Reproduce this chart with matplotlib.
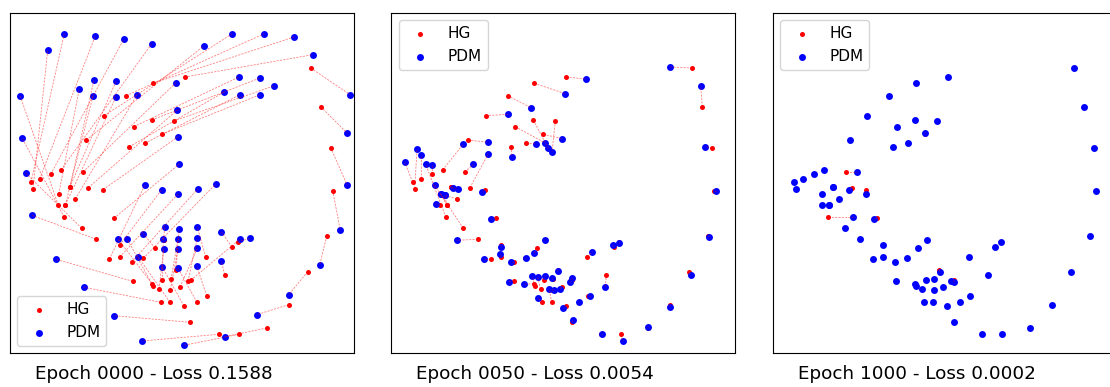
import numpy as np
import matplotlib
matplotlib.use("Agg")
import matplotlib.pyplot as plt

epochs = [0, 50, 1000]
losses = [0.1588, 0.0054, 0.0002]

# hourglass landmarks (68-point face layout), image coordinates
hg = [
    (58.3, 205), (64.3, 217.3), (81.7, 228.3), (96.3, 239.3), (132.7, 281.3),
    (160.7, 302.3), (190.3, 322.3), (219, 334.3), (239, 334.3), (266.7, 328),
    (288.7, 304.7), (307.7, 271.7), (326.7, 236), (332.7, 190.7), (330.7, 147.7),
    (320.7, 106.7), (310.7, 68),
    (33, 188.7), (31, 182), (39.7, 178.7), (50.7, 174.3), (61, 170),
    (86.3, 140), (104, 115.7), (126, 95.7), (152.7, 83.3), (184.7, 77),
    (83, 172), (88.3, 187.7), (103, 189.7), (114, 218.3),
    (109.3, 259.3), (119.7, 245), (119.7, 257), (132, 261.7), (143.3, 258.3),
    (58.7, 194), (69.7, 187.3), (69.7, 187.3), (75.3, 199), (65.3, 205), (65.3, 205),
    (129.3, 146.7), (133.7, 126.7), (151.7, 120), (173.7, 121), (161.7, 134.3), (144.7, 143.3),
    (152, 283.7), (155, 248), (163.5, 239.7), (176, 270), (205.7, 257), (232, 247),
    (237.7, 242), (224.7, 274.7), (206.7, 295.7), (197, 302.3), (184, 306), (170, 302.3),
    (153, 286), (162.3, 280.3), (171, 279.3), (188, 281.3), (190.7, 280.3), (180, 287),
    (170.3, 289.7), (159, 289),
]

# point distribution model fit at each epoch
pdm_0000 = [
    (20, 95.7), (22, 137.7), (25.7, 173), (32, 215.3), (56, 259.3),
    (84, 287.3), (114, 315.7), (141.7, 341), (183.7, 345.3), (224.7, 336.7),
    (256.7, 314.7), (288.7, 294.7), (319.7, 265), (340.3, 230.3), (347.3, 185.3),
    (347.3, 133.3), (350, 94.7),
    (47.7, 50.3), (64.3, 33.7), (95.3, 36), (123.7, 39.3), (151.7, 43.7),
    (203.7, 46), (232.3, 33.7), (264.3, 33.7), (294, 37), (312.7, 54.7),
    (176, 82.7), (177, 110.3), (178, 136.7), (179.3, 164),
    (144.7, 185.3), (161.7, 189.7), (178, 194), (198, 188.7), (215.7, 184),
    (79.3, 89), (94, 80), (116, 81.3), (137, 94.7), (116, 97), (93, 96),
    (223.7, 92.3), (239, 77), (260, 78), (274.3, 85.7), (260, 94.7), (240, 94.7),
    (118.3, 239.3), (143.3, 233.7), (164.7, 227.3), (179, 229.3), (197.3, 227), (221.3, 231.7),
    (250, 238.3), (221.3, 261.3), (196.7, 266), (178, 268.3), (162.3, 267), (138.3, 257),
    (127.3, 239.3), (163.3, 238.7), (178, 239.3), (197.3, 238.3), (239.7, 239.3), (197.3, 248.3),
    (178, 249.3), (163.7, 249.3),
]

pdm_0050 = [
    (54.1, 204), (44.1, 164.3), (53.1, 185.3), (75.1, 240.3), (127.5, 281.7),
    (156.5, 298), (191.8, 320), (220.5, 334.3), (241.5, 341.3), (266.1, 327),
    (288.1, 307), (309.1, 275), (327.8, 237), (334.8, 190.7), (323.8, 146.7),
    (319.1, 85.7), (288.1, 67),
    (35.5, 148.7), (23.1, 162), (39.8, 155.3), (50.8, 165), (81.8, 144),
    (106.5, 142.3), (126.1, 114.3), (149.5, 107.7), (183.8, 93.7), (204.8, 79),
    (91.8, 164.3), (106.5, 154.3), (100.8, 191.7), (109.5, 219.3),
    (102.8, 259.3), (119.5, 246.7), (118.5, 254), (129.8, 261.7), (144.8, 258.3),
    (59.1, 194.3), (71.1, 188.3), (76.1, 189.3), (63.1, 195.3), (63.1, 195.3), (59.1, 194.3),
    (130.5, 156.7), (163.1, 142.7), (166.8, 148.3), (170.5, 151.7), (180.5, 138.7), (154.8, 144),
    (142.8, 284.3), (152.8, 252.7), (163.1, 240.3), (176.1, 271.3), (210.8, 251.7), (231.5, 245),
    (237.5, 242.7), (223.8, 287), (208.5, 295.7), (197.1, 301.7), (181.8, 308), (167.8, 289.3),
    (150.5, 276), (163.1, 276), (170.8, 278.3), (188.8, 282.3), (190.1, 278.3), (178.1, 288.7),
    (172.5, 290.3), (156.1, 277.3),
]

pdm_1000 = [
    (58.3, 205), (89.5, 217.3), (81.7, 228.3), (96.3, 239.3), (132.7, 281.3),
    (160.7, 302.3), (190.3, 322.3), (219, 334.3), (239, 334.3), (266.7, 328),
    (288.7, 304.7), (307.7, 271.7), (326.7, 236), (332.7, 190.7), (330.7, 147.7),
    (320.7, 106.7), (310.7, 68),
    (33, 188.7), (31, 182), (39.7, 178.7), (50.7, 174.3), (61, 170),
    (86.3, 140), (104, 115.7), (126, 95.7), (152.7, 83.3), (184.7, 77),
    (94.1, 172), (86.1, 189.7), (102.8, 194), (110.5, 218.7),
    (109.3, 259.3), (119.7, 245), (119.7, 257), (132, 261.7), (143.3, 258.3),
    (58.7, 194), (69.7, 187.3), (69.7, 187.3), (75.3, 199), (65.3, 205), (65.3, 205),
    (129.3, 146.7), (133.7, 126.7), (151.7, 120), (173.7, 121), (162.1, 133.3), (144.7, 143.3),
    (152, 283.7), (155, 248), (163.5, 239.7), (176.5, 271.7), (205.7, 257), (232, 247),
    (237.7, 242), (224.7, 274.7), (206.7, 295.7), (197, 302.3), (184, 306), (170, 302.3),
    (153, 286), (162.3, 280.3), (171, 279.3), (188, 281.3), (190.5, 282.3), (180, 287),
    (170.3, 289.7), (159, 289),
]

fig = plt.figure(figsize=(11.1, 3.87), dpi=100)
W, H = 1110.0, 387.0

hg = np.array(hg)
for i, (ep, loss, pdm) in enumerate(zip(epochs, losses, [pdm_0000, pdm_0050, pdm_1000])):
    pdm = np.array(pdm)
    ax = fig.add_axes([(9.5 + i * 381.6) / W, 33.7 / H, 344 / W, 340.6 / H])

    # link each HG landmark to its PDM counterpart
    for (x0, y0), (x1, y1) in zip(hg, pdm):
        ax.plot([x0, x1], [y0, y1], color="red", ls=(0, (2.5, 1.5)), lw=0.6, alpha=0.5)

    ax.scatter(hg[:, 0], hg[:, 1], s=13, c="red", linewidths=0, label="HG")
    ax.scatter(pdm[:, 0], pdm[:, 1], s=25, c="blue", linewidths=0, label="PDM")

    ax.set_xlim(9.5, 353.5)
    ax.set_ylim(353.3, 12.7)
    ax.set_xticks([])
    ax.set_yticks([])
    ax.legend(loc="lower left" if i == 0 else "upper left", fontsize=11)
    ax.text(0.4186, -0.061, f"Epoch {ep:04d} - Loss {loss:.4f}",
            transform=ax.transAxes, ha="center", va="center", fontsize=13.2)

fig.savefig("out.png", dpi=100)
